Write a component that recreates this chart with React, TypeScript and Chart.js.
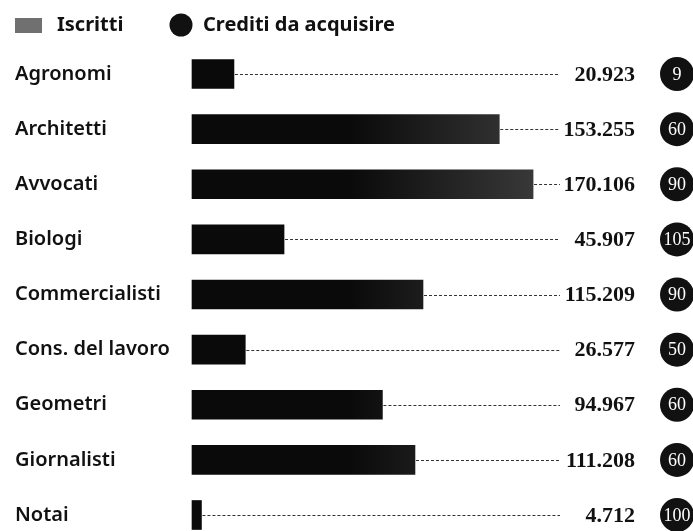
import React, { useEffect, useRef } from "react";
import { Chart, registerables } from "chart.js";
Chart.register(...registerables);

const categories = [
  "Agronomi",
  "Architetti",
  "Avvocati",
  "Biologi",
  "Commercialisti",
  "Cons. del lavoro",
  "Geometri",
  "Giornalisti",
  "Notai",
];
const iscritti = [20923, 153255, 170106, 45907, 115209, 26577, 94967, 111208, 4712];
const crediti = [9, 60, 90, 105, 90, 50, 60, 60, 100];
const legendLabels = ["Iscritti", "Crediti da acquisire"];

const fmt = (v: number) => v.toString().replace(/\B(?=(\d{3})+(?!\d))/g, ".");

const SANS = "'Noto Sans', 'Open Sans', sans-serif";
const SERIF = "'Liberation Serif', serif";

const overlay = {
  id: "overlay",
  afterDatasetsDraw(chart: any) {
    const { ctx, chartArea } = chart;
    const x = chart.scales.x;
    const y = chart.scales.y;
    const numRight = chartArea.right + 42;
    const lineStop = chartArea.right - 33;
    const circleX = chart.width - 16;
    ctx.save();
    categories.forEach((_c, i) => {
      const cy = y.getPixelForValue(i);
      const xe = x.getPixelForValue(iscritti[i]);
      const label = fmt(iscritti[i]);
      ctx.font = `bold 22px ${SERIF}`;
      const w = ctx.measureText(label).width;
      const lineEnd = Math.min(lineStop, numRight - w - 3);
      ctx.strokeStyle = "#333";
      ctx.lineWidth = 1;
      ctx.setLineDash([3, 2]);
      ctx.beginPath();
      ctx.moveTo(xe + 1, Math.round(cy) + 0.5);
      ctx.lineTo(lineEnd, Math.round(cy) + 0.5);
      ctx.stroke();
      ctx.setLineDash([]);
      ctx.fillStyle = "#111";
      ctx.textAlign = "right";
      ctx.textBaseline = "middle";
      ctx.fillText(label, numRight, cy + 1);
      ctx.beginPath();
      ctx.arc(circleX, cy, 17, 0, Math.PI * 2);
      ctx.fill();
      ctx.fillStyle = "#fff";
      ctx.font = `18px ${SERIF}`;
      ctx.textAlign = "center";
      ctx.fillText(String(crediti[i]), circleX, cy + 1);
    });
    // legend
    const ly = 25;
    ctx.fillStyle = "#707070";
    ctx.fillRect(15, ly - 7, 27, 15);
    ctx.fillStyle = "#111";
    ctx.font = `bold 20px ${SANS}`;
    ctx.textAlign = "left";
    ctx.textBaseline = "middle";
    ctx.fillText(legendLabels[0], 57, ly);
    ctx.beginPath();
    ctx.arc(181, ly, 11.5, 0, Math.PI * 2);
    ctx.fill();
    ctx.fillText(legendLabels[1], 203, ly);
    ctx.restore();
  },
};

export default function App() {
  const ref = useRef<HTMLCanvasElement>(null);
  useEffect(() => {
    document.body.style.margin = "0";
    const canvas = ref.current!;
    const chart = new Chart(canvas, {
      type: "bar",
      data: {
        labels: categories,
        datasets: [
          {
            label: legendLabels[0],
            data: iscritti,
            backgroundColor: (c: any) => {
              const area = c.chart.chartArea;
              if (!area) return "#111";
              const g = c.chart.ctx.createLinearGradient(area.left, 0, area.left + 350, 0);
              g.addColorStop(0, "#0a0a0a");
              g.addColorStop(0.45, "#0a0a0a");
              g.addColorStop(1, "#3a3a3a");
              return g;
            },
            barThickness: 29,
            clip: false as any,
          },
        ],
      },
      options: {
        indexAxis: "y",
        responsive: false,
        animation: false,
        layout: { padding: { left: 15, right: 100, top: 74, bottom: 16 } },
        plugins: { legend: { display: false }, tooltip: { enabled: false } },
        scales: {
          x: { display: false, min: 0, max: 200000 },
          y: {
            offset: false,
            grid: { display: false },
            border: { display: false },
            ticks: {
              crossAlign: "far",
              color: "#111",
              padding: 0,
              font: { family: SANS, weight: "600", size: 20 },
            },
            afterFit: (s: any) => {
              s.width = 177;
            },
          },
        },
      },
      plugins: [overlay],
    } as any);
    return () => chart.destroy();
  }, []);
  return <canvas ref={ref} width={693} height={531} style={{ display: "block" }} />;
}
